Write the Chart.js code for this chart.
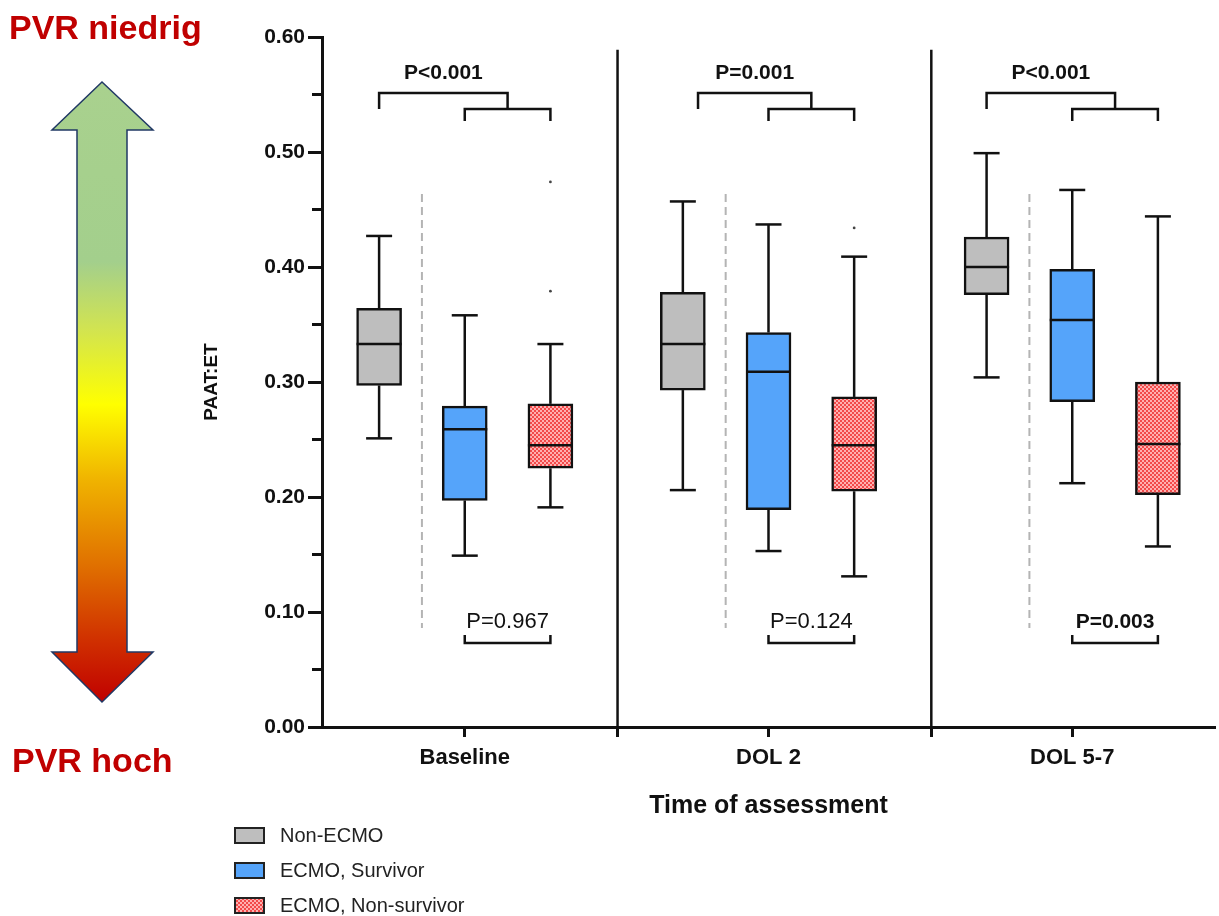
<!DOCTYPE html>
<html>
<head>
<meta charset="utf-8">
<script src="https://cdn.jsdelivr.net/npm/chart.js@4.4.1/dist/chart.umd.min.js"></script>
<style>
  html, body { margin: 0; padding: 0; background: #fff; }
  canvas { display: block; }
</style>
</head>
<body>
<canvas id="chart" width="1219" height="916"></canvas>
<script>
// PAAT:ET box plots by time of assessment (Non-ECMO / ECMO survivor / ECMO non-survivor)

const categories = ['Baseline', 'DOL 2', 'DOL 5-7'];
const groupLabels = ['Non-ECMO', 'ECMO, Survivor', 'ECMO, Non-survivor'];

// five number summaries, one value per category
const nonEcmoMin = [0.251, 0.206, 0.304];
const nonEcmoQ1 = [0.297, 0.293, 0.376];
const nonEcmoMedian = [0.333, 0.333, 0.400];
const nonEcmoQ3 = [0.364, 0.378, 0.426];
const nonEcmoMax = [0.427, 0.457, 0.499];

const survivorMin = [0.149, 0.153, 0.212];
const survivorQ1 = [0.197, 0.189, 0.283];
const survivorMedian = [0.259, 0.309, 0.354];
const survivorQ3 = [0.279, 0.343, 0.398];
const survivorMax = [0.358, 0.437, 0.467];

const nonSurvivorMin = [0.191, 0.131, 0.157];
const nonSurvivorQ1 = [0.225, 0.205, 0.202];
const nonSurvivorMedian = [0.245, 0.245, 0.246];
const nonSurvivorQ3 = [0.281, 0.287, 0.300];
const nonSurvivorMax = [0.333, 0.409, 0.444];

// outlier dots of the non-survivor group
const outlierCategory = [0, 0, 1];
const outlierValue = [0.474, 0.379, 0.434];

// p values
const pOverall = ['P<0.001', 'P=0.001', 'P<0.001'];
const pSurvival = ['P=0.967', 'P=0.124', 'P=0.003'];
const pSurvivalBold = [false, false, true];

const FONT = "'Liberation Sans', Arial, Helvetica, sans-serif";
Chart.defaults.font.family = FONT;

// small red checker for the non-survivor boxes
function makeChecker() {
    const c = document.createElement('canvas');
    c.width = 4; c.height = 4;
    const g = c.getContext('2d');
    g.fillStyle = '#ffb0b0';
    g.fillRect(0, 0, 4, 4);
    g.fillStyle = '#f24a4a';
    g.fillRect(0, 0, 2, 2);
    g.fillRect(2, 2, 2, 2);
    return g.createPattern(c, 'repeat');
}
const checker = makeChecker();

const boxes = [
    { label: groupLabels[0], min: nonEcmoMin, q1: nonEcmoQ1, med: nonEcmoMedian, q3: nonEcmoQ3, max: nonEcmoMax, fill: '#bebebe' },
    { label: groupLabels[1], min: survivorMin, q1: survivorQ1, med: survivorMedian, q3: survivorQ3, max: survivorMax, fill: '#55a4fa' },
    { label: groupLabels[2], min: nonSurvivorMin, q1: nonSurvivorQ1, med: nonSurvivorMedian, q3: nonSurvivorQ3, max: nonSurvivorMax, fill: checker },
];

// horizontal layout in category units
const offsets = [-0.282, 0, 0.282];
const dividerAt = [1.503, 2.536];
const bracketStart = [-0.282, -0.232, -0.282];

const datasets = boxes.map((b, k) => ({
    type: 'bar',
    label: b.label,
    data: categories.map((c, i) => ({ x: i + 1 + offsets[k], y: [b.q1[i], b.q3[i]] })),
    backgroundColor: b.fill,
    borderColor: '#111',
    borderWidth: 2.5,
    borderSkipped: false,
    barThickness: 45,
    grouped: false,
}));

datasets.push({
    type: 'scatter',
    label: 'outliers',
    data: outlierValue.map((v, i) => ({ x: outlierCategory[i] + 1 + offsets[2], y: v })),
    pointRadius: 1.4,
    backgroundColor: '#444',
    borderWidth: 0,
});

function line(ctx, x1, y1, x2, y2) {
    ctx.beginPath();
    ctx.moveTo(x1, y1);
    ctx.lineTo(x2, y2);
    ctx.stroke();
}

const isMajor = (v) => Math.round(v * 100) % 10 === 0;

const extras = {
    id: 'extras',
    beforeDraw(chart) {
        const ctx = chart.ctx;
        ctx.save();
        // PVR arrow
        const grad = ctx.createLinearGradient(0, 82, 0, 702);
        grad.addColorStop(0, '#a9d18e');
        grad.addColorStop(0.29, '#a3cf8c');
        grad.addColorStop(0.40, '#d2e450');
        grad.addColorStop(0.52, '#ffff00');
        grad.addColorStop(0.64, '#f0b400');
        grad.addColorStop(0.78, '#e07000');
        grad.addColorStop(0.90, '#d03000');
        grad.addColorStop(1, '#c00000');
        const pts = [[102, 82], [153, 130], [127, 130], [127, 652], [153, 652], [102, 702],
                     [52, 652], [77, 652], [77, 130], [52, 130]];
        ctx.beginPath();
        pts.forEach((p, i) => i ? ctx.lineTo(p[0], p[1]) : ctx.moveTo(p[0], p[1]));
        ctx.closePath();
        ctx.fillStyle = grad;
        ctx.fill();
        ctx.strokeStyle = '#203864';
        ctx.lineWidth = 1.5;
        ctx.stroke();

        ctx.fillStyle = '#c00000';
        ctx.font = 'bold 34px ' + FONT;
        ctx.textBaseline = 'alphabetic';
        ctx.textAlign = 'left';
        ctx.fillText('PVR niedrig', 9, 39);
        ctx.fillText('PVR hoch', 12, 772);
        ctx.restore();
    },
    beforeDatasetsDraw(chart) {
        const { ctx, scales: { x, y } } = chart;
        ctx.save();
        ctx.strokeStyle = '#111';
        ctx.lineWidth = 2.5;
        dividerAt.forEach(v => line(ctx, x.getPixelForValue(v), y.getPixelForValue(0.589), x.getPixelForValue(v), y.getPixelForValue(0)));
        // short minor ticks on the y axis
        ctx.lineWidth = 3;
        y.ticks.forEach(t => {
            if (!isMajor(t.value)) {
                const py = y.getPixelForValue(t.value);
                line(ctx, chart.chartArea.left - 10, py, chart.chartArea.left, py);
            }
        });
        ctx.strokeStyle = '#b4b4b4';
        ctx.lineWidth = 2;
        ctx.setLineDash([8, 5]);
        categories.forEach((c, i) => {
            const px = x.getPixelForValue(i + 1 - 0.141);
            line(ctx, px, y.getPixelForValue(0.4635), px, y.getPixelForValue(0.086));
        });
        ctx.restore();
    },
    afterDatasetsDraw(chart) {
        const { ctx, scales: { y } } = chart;
        ctx.save();
        ctx.strokeStyle = '#111';
        ctx.lineWidth = 2.5;
        boxes.forEach((b, k) => {
            chart.getDatasetMeta(k).data.forEach((bar, i) => {
                const cx = bar.x, half = bar.width / 2;
                const yMax = y.getPixelForValue(b.max[i]);
                const yMin = y.getPixelForValue(b.min[i]);
                line(ctx, cx, y.getPixelForValue(b.q3[i]), cx, yMax);
                line(ctx, cx, y.getPixelForValue(b.q1[i]), cx, yMin);
                line(ctx, cx - 13, yMax, cx + 13, yMax);
                line(ctx, cx - 13, yMin, cx + 13, yMin);
                const yMed = y.getPixelForValue(b.med[i]);
                line(ctx, cx - half, yMed, cx + half, yMed);
            });
        });
        ctx.restore();
    },
    afterDraw(chart) {
        const { ctx, scales: { x, y } } = chart;
        ctx.save();
        ctx.strokeStyle = '#111';
        ctx.fillStyle = '#111';
        ctx.lineWidth = 2.5;
        ctx.textAlign = 'center';
        ctx.textBaseline = 'middle';
        categories.forEach((c, i) => {
            const cat = i + 1;
            const xl = x.getPixelForValue(cat + bracketStart[i]);
            const xb = x.getPixelForValue(cat + offsets[1]);
            const xr = x.getPixelForValue(cat + offsets[2]);
            const xm = x.getPixelForValue(cat + (offsets[1] + offsets[2]) / 2);
            const yTop = y.getPixelForValue(0.5513);
            const ySub = y.getPixelForValue(0.5374);
            const yLeg = y.getPixelForValue(0.527);
            // outer bracket
            ctx.beginPath();
            ctx.moveTo(xl, ySub); ctx.lineTo(xl, yTop); ctx.lineTo(xm, yTop); ctx.lineTo(xm, ySub);
            ctx.stroke();
            // inner bracket
            ctx.beginPath();
            ctx.moveTo(xb, yLeg); ctx.lineTo(xb, ySub); ctx.lineTo(xr, ySub); ctx.lineTo(xr, yLeg);
            ctx.stroke();
            ctx.font = 'bold 21px ' + FONT;
            ctx.fillText(pOverall[i], (xl + xm) / 2, y.getPixelForValue(0.5687));

            // survivor vs non-survivor
            const yB = y.getPixelForValue(0.073);
            const yBL = y.getPixelForValue(0.080);
            ctx.beginPath();
            ctx.moveTo(xb, yBL); ctx.lineTo(xb, yB); ctx.lineTo(xr, yB); ctx.lineTo(xr, yBL);
            ctx.stroke();
            ctx.font = (pSurvivalBold[i] ? 'bold 21px ' : '22px ') + FONT;
            ctx.fillText(pSurvival[i], (xb + xr) / 2, y.getPixelForValue(0.0913));
        });

        // legend
        ctx.textAlign = 'left';
        ctx.font = '20px ' + FONT;
        ctx.lineWidth = 2;
        boxes.forEach((b, k) => {
            const top = 828 + k * 35;
            ctx.fillStyle = b.fill;
            ctx.fillRect(235, top, 29, 15);
            ctx.strokeStyle = '#222';
            ctx.strokeRect(235, top, 29, 15);
            ctx.fillStyle = '#222';
            ctx.fillText(b.label, 280, top + 8);
        });
        ctx.restore();
    }
};

new Chart(document.getElementById('chart'), {
    type: 'bar',
    data: { datasets },
    options: {
        responsive: false,
        devicePixelRatio: 1,
        animation: false,
        layout: { padding: { left: 200, top: 37, right: 0, bottom: 89 } },
        plugins: {
            legend: { display: false },
            tooltip: { enabled: false },
        },
        scales: {
            x: {
                type: 'linear',
                min: 0.53,
                max: 3.47,
                offset: false,
                afterFit: (scale) => { scale.height = 100; },
                afterBuildTicks: (scale) => {
                    scale.ticks = [1, dividerAt[0], 2, dividerAt[1], 3].map(v => ({ value: v }));
                },
                ticks: {
                    autoSkip: false,
                    maxRotation: 0,
                    padding: 8,
                    color: '#111',
                    font: { size: 22, weight: 'bold' },
                    callback: (v) => Number.isInteger(v) ? categories[v - 1] : '',
                },
                grid: { drawOnChartArea: false, offset: false, tickLength: 10, tickWidth: 3, tickColor: '#111' },
                border: { display: true, width: 3, color: '#111' },
                title: {
                    display: true,
                    text: 'Time of assessment',
                    color: '#111',
                    font: { size: 25, weight: 'bold' },
                    padding: { top: 0, bottom: 6 },
                },
            },
            y: {
                min: 0,
                max: 0.6,
                afterFit: (scale) => { scale.width = 122; },
                ticks: {
                    stepSize: 0.05,
                    padding: 3,
                    color: '#111',
                    font: { size: 21, weight: 'bold' },
                    callback: (v) => isMajor(v) ? v.toFixed(2) : '',
                },
                grid: {
                    drawOnChartArea: false,
                    tickLength: 14,
                    tickWidth: (c) => (c.tick && isMajor(c.tick.value)) ? 3 : 0,
                    tickColor: '#111',
                },
                border: { display: true, width: 3, color: '#111' },
                title: {
                    display: true,
                    text: 'PAAT:ET',
                    color: '#111',
                    font: { size: 19, weight: 'bold' },
                    padding: { top: 0, bottom: 0 },
                },
            },
        },
    },
    plugins: [extras],
});
</script>
</body>
</html>
